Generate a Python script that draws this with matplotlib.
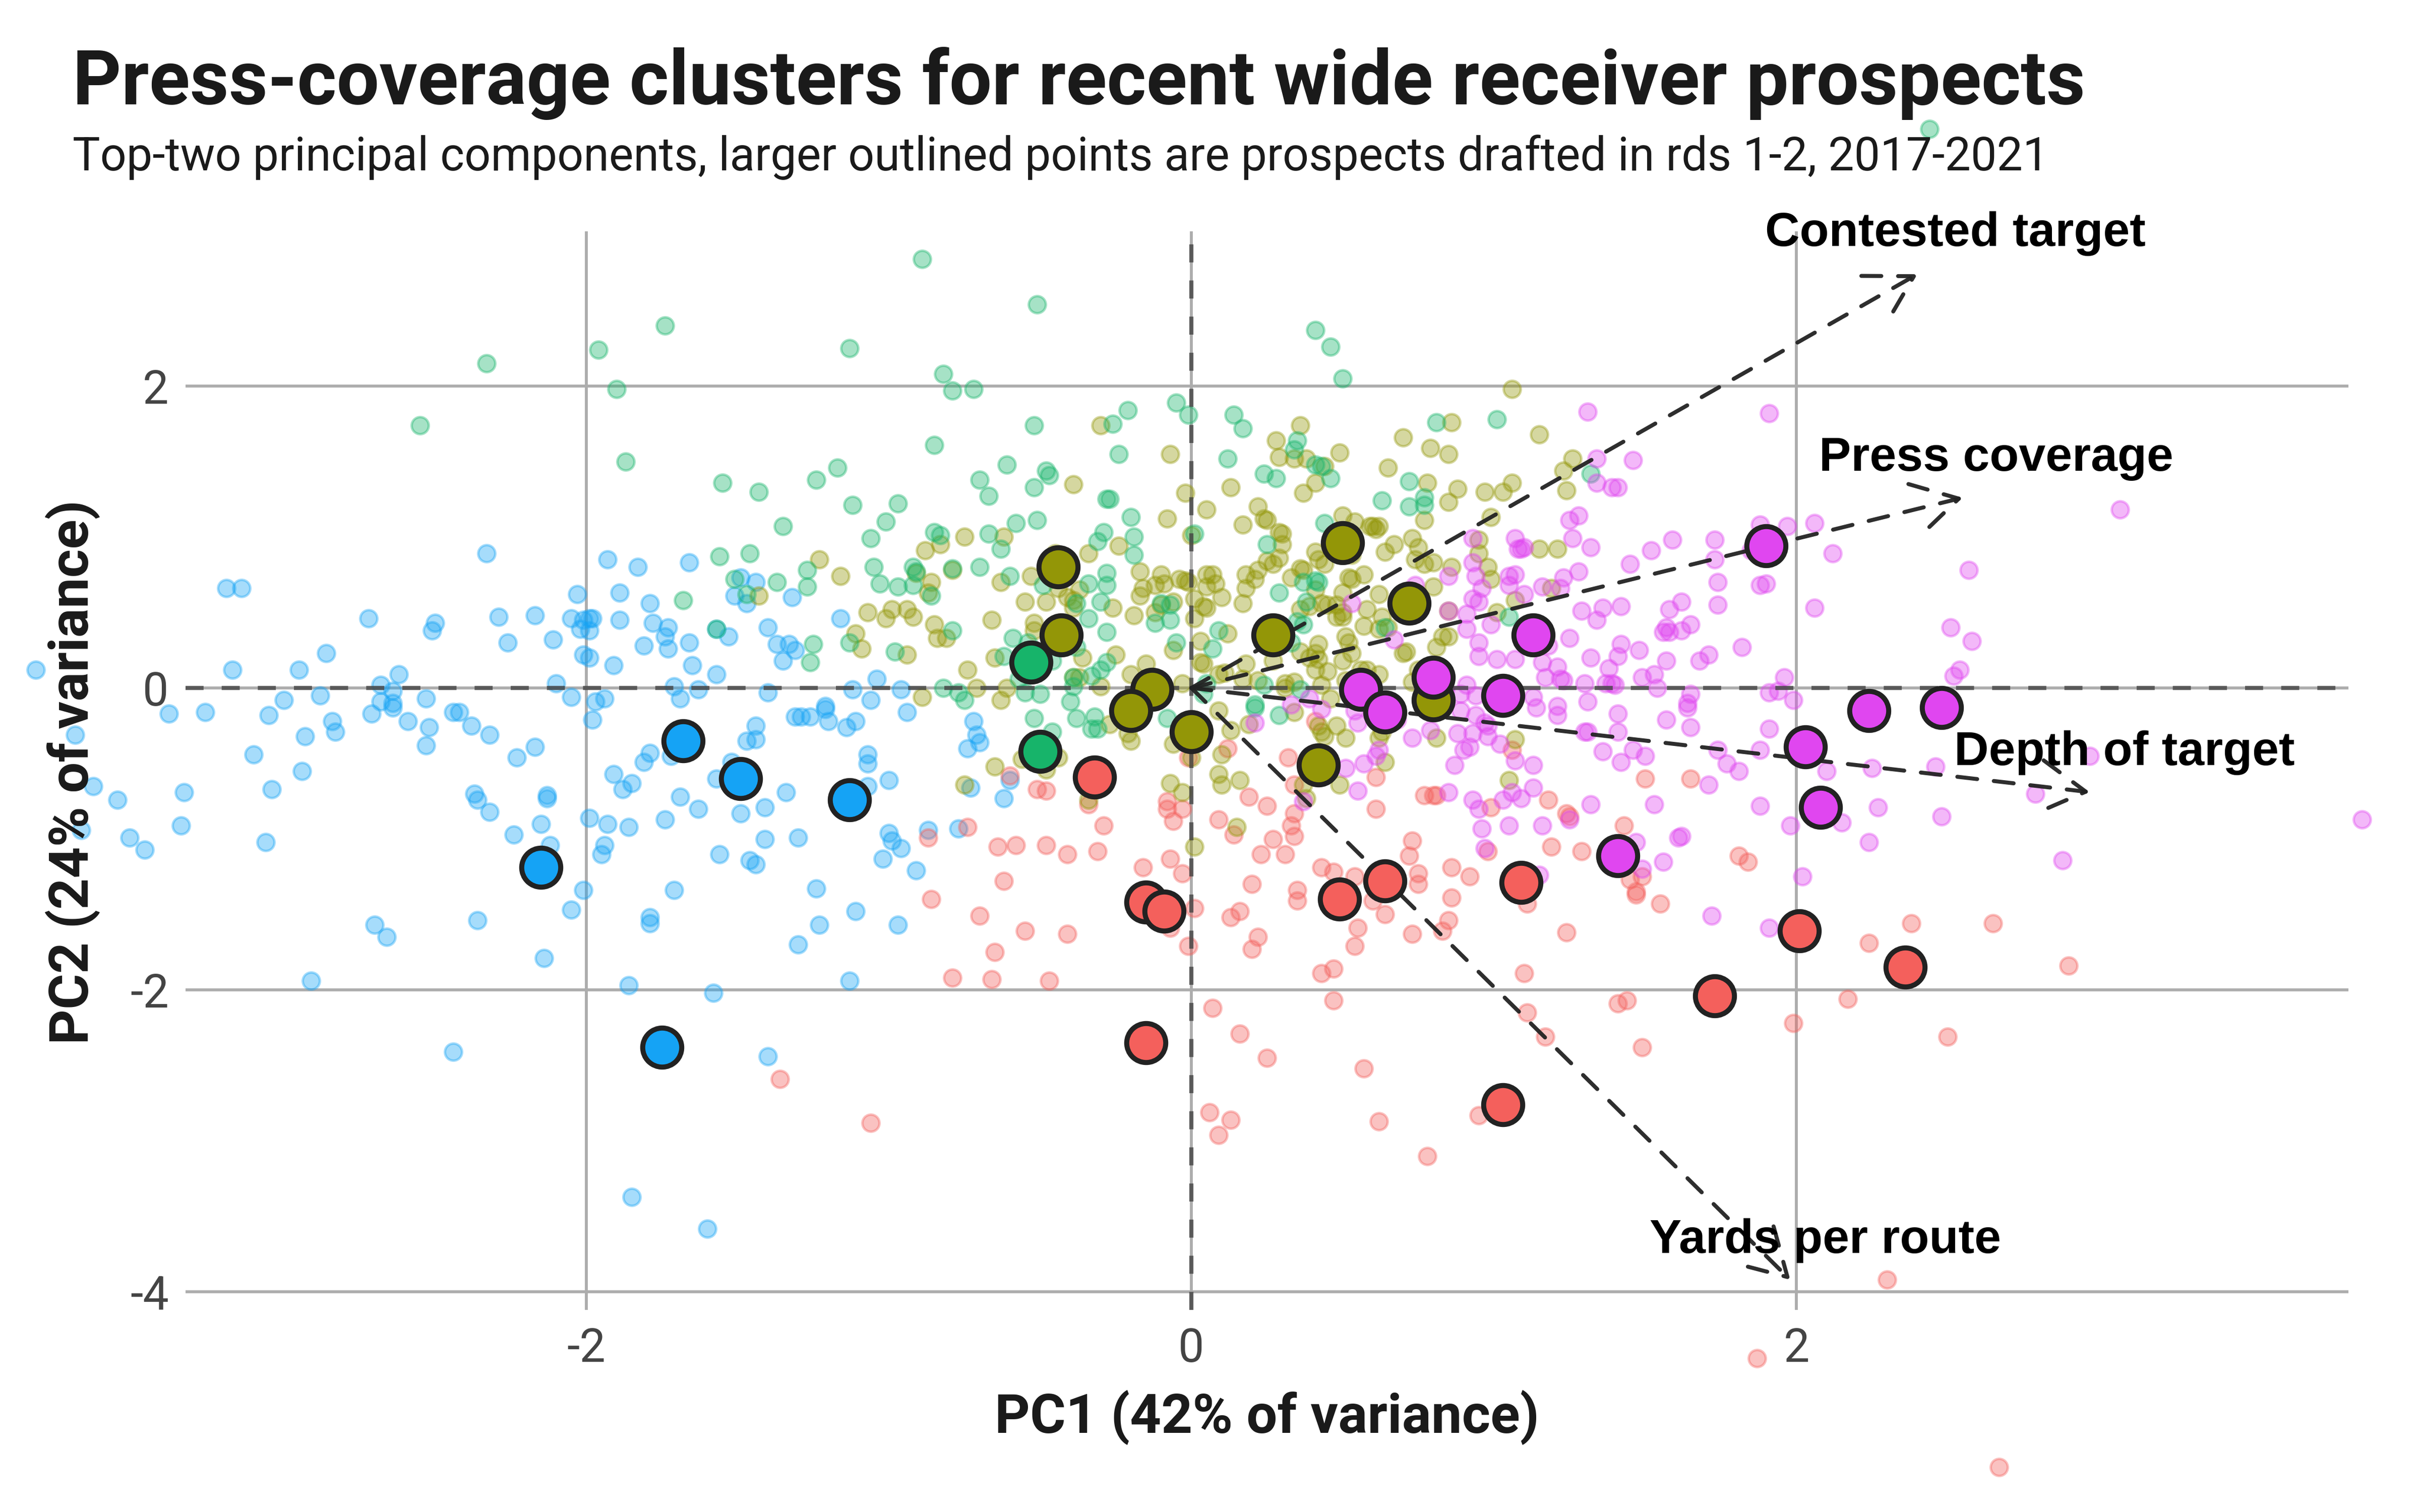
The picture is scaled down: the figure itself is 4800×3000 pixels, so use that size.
import matplotlib
matplotlib.use("Agg")
import matplotlib.pyplot as plt
import numpy as np

blue_points = [(-2.33,.89),(-3.82,.12),(-3.19,.66),(-3.14,.66),(-3.17,.12),(-2.95,.12),(-2.86,.23),(-2.72,.46),(-2.50,.43),(-2.51,.38),
(-2.29,.47),(-2.17,.48),(-2.26,.30),(-2.11,.32),(-1.93,.85),(-1.83,.80),(-1.66,.83),(-2.03,.62),(-1.89,.63),(-1.79,.56),(-2.05,.46),
(-2.01,.45),(-1.99,.46),(-1.98,.46),(-2.02,.39),(-1.99,.38),(-1.89,.45),(-1.78,.43),(-1.73,.40),(-1.74,.34),(-1.73,.26),(-1.81,.28),
(-1.66,.30),(-2.01,.22),(-1.99,.20),(-1.91,.15),(-1.65,.15),(-1.57,.09),(-2.62,.09),(-2.68,.02),(-2.64,-.02),(-2.10,.03),(-1.71,.01),
(-1.63,-.01),(-1.40,-.03),(-1.49,.73),(-1.44,.70),(-1.51,.61),(-1.47,.56),(-1.57,.39),(-1.53,.34),(-1.40,.40),(-1.32,.60),(-1.37,.29),
(-1.33,.29),(-1.31,.25),(-1.35,.18),(-3.0,-.08),(-2.88,-.05),(-2.68,-.09),(-2.64,-.10),(-2.53,-.07),(-2.05,-.06),(-1.97,-.09),(-1.94,-.07),
(-1.69,-.07),(-3.38,-.17),(-3.26,-.16),(-3.05,-.18),(-3.69,-.31),(-2.84,-.22),(-2.83,-.29),(-2.93,-.32),(-2.71,-.17),(-2.64,-.13),
(-2.59,-.22),(-2.52,-.26),(-2.44,-.16),(-2.42,-.16),(-2.38,-.25),(-2.32,-.31),(-2.53,-.38),(-1.98,-.21),(-3.10,-.44),(-2.94,-.55),
(-2.17,-.39),(-2.23,-.46),(-3.63,-.65),(-3.55,-.74),(-3.33,-.69),(-3.04,-.67),(-3.67,-.94),(-3.34,-.91),(-3.51,-.99),(-3.46,-1.07),
(-3.06,-1.02),(-2.37,-.70),(-2.36,-.74),(-2.32,-.82),(-2.13,-.71),(-2.13,-.73),(-2.15,-.90),(-2.24,-.97),(-2.12,-1.04),(-1.99,-.86),
(-1.93,-.90),(-1.86,-.92),(-1.94,-1.04),(-1.95,-1.10),(-2.01,-1.34),(-2.05,-1.47),(-2.36,-1.54),(-2.70,-1.57),(-2.66,-1.65),(-2.14,-1.79),
(-2.91,-1.94),(-1.86,-1.97),(-1.58,-2.02),(-2.44,-2.41),(-1.40,-2.44),(-1.85,-3.37),(-1.60,-3.58),(-1.71,-1.34),(-1.79,-1.52),(-1.79,-1.56),
(-1.30,-1.70),(-1.56,-1.10),(-1.46,-1.14),(-1.44,-1.17),(-1.41,-1.00),(-1.30,-.99),(-1.49,-.83),(-1.41,-.79),(-1.34,-.69),(-1.63,-.80),
(-1.69,-.72),(-1.74,-.87),(-1.57,-.60),(-1.52,-.49),(-1.72,-.45),(-1.79,-.43),(-1.81,-.49),(-1.91,-.57),(-1.85,-.63),(-1.88,-.67),
(-1.47,-.35),(-1.44,-.34),(-1.44,-.25),(-1.31,-.19),(-1.29,-.19),(-1.16,.46),(-1.04,.06),(-1.12,-.01),(-.96,-.01),(-1.06,-.08),(-1.21,-.12),
(-1.26,-.19),(-1.20,-.22),(-1.11,-.22),(-1.14,-.26),(-1.21,-.14),(-.94,-.16),(-.72,-.22),(-.71,-.31),(-.70,-.36),(-.74,-.40),(-1.07,-.44),
(-1.07,-.50),(-1.07,-.65),(-1.00,-.61),(-.73,-.66),(-.60,-.61),(-.62,-.73),(-1.00,-.96),(-.99,-1.01),(-.96,-1.06),(-1.02,-1.13),(-.91,-1.21),
(-.87,-.94),(-.77,-.93),(-1.24,-1.33),(-1.11,-1.48),(-1.23,-1.57),(-.97,-1.57),(-1.13,-1.94)]

green_points = [(-.89,2.84),(-.51,2.54),(-1.13,2.25),(-.82,2.08),(-.79,1.97),(-.72,1.98),(.41,2.37),(.46,2.26),(.50,2.05),(-.05,1.89),
(-.01,1.81),(-.21,1.84),(-.26,1.75),(-.52,1.74),(.14,1.81),(.17,1.72),(-.85,1.61),(-.24,1.55),(.12,1.52),(-1.17,1.46),(-1.24,1.38),(-.61,1.48),
(-.70,1.38),(-.48,1.44),(-.47,1.41),(-.52,1.33),(-.67,1.27),(-1.12,1.21),(-.97,1.22),(-1.01,1.10),(-1.06,.99),(-.85,1.03),(-.83,1.01),
(-.67,1.02),(-.58,1.09),(-.51,1.11),(-.28,1.25),(-.27,1.25),(-.20,1.13),(-.29,1.03),(-.31,.97),(-.19,1.00),(-.19,.88),(-.63,.92),(.01,1.02),
(-.92,.80),(-1.05,.80),(-.70,.80),(-.79,.79),(-1.03,.69),(-.97,.67),(-.92,.68),(-.91,.77),(-1.27,.78),(-1.27,.67),(-.86,.61),(-.60,.74),
(-.28,.76),(-.28,.68),(-.34,.69),(-.49,.68),(-.30,.57),(-.38,.56),(-.34,.46),(-.10,.56),(-.07,.55),(-.07,.45),(-.12,.43),(-.28,.37),(-.79,.38),
(-.59,.33),(-.54,.30),(-1.25,.29),(-1.13,.30),(-.98,.24),(-1.26,.17),(-.62,.21),(-.46,.18),(-.38,.27),(-.05,.30),(.09,.38),(.07,.26),(-.28,.17),
(-.30,.12),(-.33,.08),(-.39,.07),(-.39,.01),(-.57,.06),(-.82,0),(-.77,-.03),(-.75,-.08),(-.55,-.03),(-.50,-.04),(-.40,-.09),(.05,.03),(.04,-.04),
(.21,-.11),(.24,.02),(.29,.63),(.25,.95),(.44,1.09),(.46,1.39),(.41,1.48),(.43,1.47),(.35,1.64),(.34,1.58),(.24,1.42),(.28,1.39),(.81,1.76),
(1.01,1.78),(.72,1.37),(.63,1.24),(.72,1.20),(.77,1.26),(.77,1.21),(1.32,1.42),(.37,.70),(.41,.71),(.42,.70),(.38,.57),(.35,.44),(.37,.42),
(.64,.40),(1.05,.47),(.33,.30),(.36,-.01),(.29,-.18),(-.52,-.20),(-.38,-.20),(-.32,-.19),(-.33,-.27),(-.31,-.27),(-.46,-.29),(-.08,-.20),(.21,-.13),
(2.44,3.70),(-2.33,2.15),(-1.96,2.24),(-1.74,2.40),(-1.90,1.98),(-2.55,1.74),(-1.87,1.50),(-1.55,1.36),(-1.43,1.30),(-1.35,1.07),(-1.56,.87),
(-1.46,.89),(-1.37,.70),(-1.51,.72),(-1.68,.58),(-1.47,.62),(-1.57,.39)]

olive_points = [(-1.43,.61),(1.06,1.98),(-.30,1.74),(.86,1.76),(.36,1.74),(.28,1.64),(.70,1.66),(1.15,1.68),(-.07,1.55),(.79,1.59),(.85,1.55),
(.49,1.56),(.29,1.53),(.34,1.52),(.38,1.52),(.44,1.47),(.65,1.46),(1.26,1.52),(1.23,1.44),(-.39,1.35),(.13,1.33),(.41,1.36),(.37,1.29),(-.02,1.29),
(.78,1.36),(.88,1.32),(.97,1.30),(1.03,1.30),(1.06,1.36),(1.24,1.31),(.85,1.23),(.05,1.18),(-.08,1.12),(.22,1.20),(.24,1.12),(.25,1.11),(.17,1.08),
(.50,1.14),(.54,1.10),(.59,1.07),(.60,1.07),(.62,1.07),(.61,1.05),(.77,1.11),(.99,1.13),(.29,1.03),(.30,1.02),(.30,.95),(-.62,1.00),(-.75,1.00),
(-.83,.95),(-.88,.91),(-.24,.94),(-.34,.89),(-.45,.89),(0,1.01),(-1.23,.85),(-1.16,.74),(-.91,.76),(-.86,.70),(-.79,.78),(-.87,.63),(-.63,.70),
(-.53,.74),(.41,.90),(.42,.85),(.44,.82),(.53,.88),(.64,.90),(.67,.95),(.73,.99),(.75,.93),(.95,.98),(.95,.89),(1.15,.92),(1.21,.92),(.98,.80),
(.74,.85),(.77,.82),(.80,.83),(.86,.80),(.99,.72),(.29,.86),(.25,.84),(.27,.82),(.22,.78),(.36,.79),(.37,.78),(.18,.75),(.21,.72),(.18,.66),(.17,.56),
(.57,.75),(.52,.73),(.53,.72),(.33,.73),(.41,.65),(.50,.63),(.43,.56),(.80,.67),(.62,.62),(.58,.52),(.36,.52),(.39,.54),(.45,.55),(.48,.55),(.48,.47),
(.50,.47),(.50,.50),(.63,.47),(.62,.39),(.57,.41),(.65,.40),(1.07,.58),(1.01,.50),(.85,.51),(1.19,.66),(-.17,.77),(-.10,.75),(-.04,.72),(-.02,.71),
(-.01,.70),(.05,.75),(.07,.75),(.08,.69),(.05,.67),(.10,.60),(.01,.59),(.04,.54),(.05,.53),(.01,.46),(-.09,.69),(-.12,.68),(-.16,.66),(-.17,.61),
(-.06,.57),(-.10,.55),(-.12,.50),(-.19,.48),(-.26,.53),(-.55,.57),(-.48,.57),(-.44,.66),(-.41,.60),(-.39,.58),(-.37,.65),(-.39,.53),(-.52,.43),
(-.52,.38),(-1.07,.50),(-.99,.52),(-.94,.52),(-.92,.47),(-1.01,.46),(-.85,.42),(-.84,.33),(-.81,.33),(-.66,.45),(-1.11,.36),(-1.09,.26),(-.94,.22),
(-.65,.20),(-.36,.20),(-.25,.22),(-.74,.12),(-.71,0),(-.61,0),(-.89,-.06),(-.63,-.08),(-.39,.07),(-.37,.07),(-.30,.01),(-.20,.09),(-.15,.16),(-.03,.03),
(-.06,.25),(.03,.31),(.12,.36),(.03,.17),(.04,.16),(.09,.09),(.11,.10),(.18,.16),(.27,.18),(.22,.05),(.17,.06),(.31,.03),(.34,.04),(.31,0),(.36,.24),
(.39,.20),(.41,.23),(.42,.19),(.42,.29),(.50,.18),(.53,.23),(.51,.34),(.52,.30),(.43,.02),(.45,.11),(.41,.12),(.51,.05),(.56,.12),(.58,.12),(.62,.09),
(.70,.23),(.71,.24),(.75,.12),(.81,.27),(.83,.34),(.85,.34),(.73,.04),(.46,-.07),(-.27,-.24),(-.21,-.30),(-.20,-.35),(-.06,-.37),(.34,-.16),(.19,-.24),
(.13,-.28),(.09,-.15),(.42,-.25),(.43,-.29),(.44,-.32),(.48,-.25),(.51,-.33),(.62,-.33),(.63,-.29),(.64,-.49),(.81,-.33),(1.07,-.34),(1.05,-.61),
(0,-.46),(.10,-.44),(.09,-.57),(.10,-.64),(.16,-.61),(-.07,-.63),(-.03,-.69),(.15,-.92),(.01,-1.05),(.37,-.64),(.38,-.73),(.49,-.64),(-.56,-.47),
(-.44,-.46),(-.48,-.54),(-.65,-.52),(-.75,-.64),(-.34,-.74)]

magenta_points = [(1.31,1.83),(1.34,1.52),(1.34,1.36),(1.39,1.33),(1.25,1.11),(1.28,1.14),(.93,.99),(1.07,.99),(1.26,.99),(1.32,.93),(1.08,.92),
(1.10,.93),(1.09,.92),(.93,.83),(.94,.74),(.85,.74),(1.07,.75),(1.05,.74),(1.05,.68),(1.28,.77),(1.23,.73),(1.22,.66),(1.16,.67),(1.10,.62),(.96,.66),
(.93,.59),(.95,.57),(.74,.68),(.53,.56),(.67,.32),(.85,.51),(.91,.49),(.99,.42),(.91,.39),(.95,.30),(.95,.21),(1.01,.19),(1.07,.19),(1.18,.28),(1.16,.17),
(1.25,.33),(1.29,.51),(1.34,.45),(1.36,.53),(1.32,.20),(1.21,.14),(1.17,.07),(1.22,.06),(1.23,.05),(1.30,.03),(1.38,.13),(1.37,.03),(1.39,.03),(.91,.02),
(.84,-.01),(.89,-.04),(.94,-.05),(1.13,-.06),(1.31,-.09),(1.21,-.12),(.39,-.07),(.33,-.11),(.43,-.14),(.21,-.23),(.54,-.15),(.55,-.23),(.51,-.53),(.57,-.50),
(.62,-.41),(.61,-.45),(.73,-.33),(.79,-.28),(.68,-.21),(.55,-.68),(.37,-.75),(.85,-.69),(.89,-.15),(.94,-.18),(.97,-.23),(.98,-.25),(.88,-.30),(.93,-.30),
(.98,-.32),(1.02,-.37),(.92,-.39),(.90,-.41),(.87,-.51),(1.07,-.48),(1.13,-.51),(1.14,-.13),(1.21,-.18),(1.30,-.29),(1.31,-.29),(1.36,-.42),(1.13,-.66),
(1.09,-.73),(1.06,-.69),(1.03,-.74),(.93,-.74),(.95,-.80),(.96,-.93),(.97,-1.06),(1.05,-.91),(1.16,-.91),(1.25,-.87),(1.32,-.77),(1.15,-1.24),
(1.91,1.82),(1.46,1.51),(1.41,1.33),(3.07,1.18),(1.88,1.08),(1.97,1.07),(2.06,1.09),(1.59,.98),(1.73,.98),(1.73,.85),(1.52,.91),(1.45,.82),(2.12,.89),(1.85,.91),
(2.57,.78),(1.74,.70),(1.88,.68),(1.90,.69),(1.42,.54),(1.62,.57),(1.58,.52),(1.74,.55),(2.06,.53),(1.56,.37),(1.57,.40),(1.58,.37),(1.62,.38),(1.65,.42),
(1.42,.29),(1.41,.21),(1.48,.25),(1.82,.27),(1.71,.22),(1.68,.18),(1.57,.18),(2.51,.40),(2.58,.31),(2.54,.12),(2.52,.08),(1.53,.09),(1.49,.07),(1.54,0),
(1.96,.07),(1.91,-.03),(1.94,-.02),(1.65,-.04),(1.99,-.08),(1.40,.02),(1.64,-.10),(1.41,-.17),(1.57,-.21),(1.64,-.13),(1.65,-.26),(1.91,-.27),(1.41,-.29),
(1.42,-.49),(1.46,-.41),(1.50,-.45),(1.74,-.41),(1.88,-.41),(1.77,-.50),(1.81,-.55),(1.71,-.64),(1.53,-.77),(1.88,-.78),(2.10,-.55),(2.25,-.53),(2.46,-.52),
(2.97,-.45),(2.79,-.70),(2.27,-.79),(2.48,-.85),(2.15,-.89),(1.98,-.91),(3.87,-.87),(2.24,-1.02),(2.88,-1.14),(1.47,-1.02),(1.62,-.98),(1.61,-.99),(1.56,-1.15),
(1.49,-1.20),(2.02,-1.25),(1.72,-1.51),(1.91,-1.59)]

red_points = [(1.50,-.60),(1.65,-.60),(1.43,-.91),(1.81,-1.11),(1.84,-1.15),(1.49,-1.25),(1.45,-1.27),(1.47,-1.35),(1.47,-1.37),(1.55,-1.43),(2.24,-1.69),
(2.38,-1.56),(2.65,-1.56),(2.90,-1.84),(2.17,-2.06),(1.44,-2.07),(1.41,-2.09),(1.99,-2.22),(2.50,-2.31),(1.49,-2.38),(2.30,-3.92),(1.87,-4.44),(2.67,-5.16),
(-.60,-.58),(-.51,-.67),(-.48,-.68),(-.34,-.77),(-.01,-.46),(.12,-.40),(.32,-.46),(.34,-.64),(.61,-.59),(.19,-.72),(.25,-.78),(-.08,-.75),(-.08,-.80),(-.03,-.80),
(-.06,-.88),(-.29,-.91),(.09,-.87),(.34,-.83),(.33,-.91),(.34,-.98),(.14,-.97),(.27,-1.00),(.61,-.80),(.77,-.71),(.80,-.71),(.81,-.71),(.99,-.79),(1.18,-.74),
(1.24,-.83),(1.25,-.85),(1.06,-.41),(.41,-.22),(-.74,-.92),(-.87,-.99),(-.64,-1.05),(-.58,-1.04),(-.48,-1.04),(-.41,-1.10),(-.31,-1.08),(-.07,-1.13),(-.16,-1.19),
(-.03,-1.23),(.23,-1.10),(.31,-1.10),(.43,-1.19),(.47,-1.22),(.54,-1.25),(.73,-1.01),(.72,-1.11),(.75,-1.23),(.75,-1.30),(.86,-1.19),(.92,-1.25),(1.19,-1.05),
(1.29,-1.08),(.98,-1.08),(-.62,-1.28),(-.86,-1.40),(-.70,-1.51),(.20,-1.30),(.35,-1.34),(.35,-1.41),(.60,-1.41),(.86,-1.39),(.01,-1.46),(.16,-1.48),(.13,-1.52),
(.64,-1.50),(1.11,-1.43),(.85,-1.54),(.83,-1.61),(.55,-1.59),(.73,-1.63),(1.24,-1.62),(-.55,-1.61),(-.41,-1.63),(-.65,-1.75),(-.07,-1.59),(-.01,-1.71),(.22,-1.65),
(.20,-1.73),(.54,-1.71),(.43,-1.89),(.47,-1.86),(1.10,-1.89),(-.79,-1.92),(-.66,-1.93),(-.47,-1.94),(.07,-2.12),(.47,-2.07),(1.11,-2.15),(1.17,-2.31),(.16,-2.29),
(.25,-2.45),(.57,-2.52),(.06,-2.81),(.13,-2.86),(.09,-2.96),(.62,-2.87),(.95,-2.83),(.78,-3.10),(-1.06,-2.88),(-1.36,-2.59)]

blue_drafted = [(-1.68,-.35),(-1.49,-.60),(-2.15,-1.19),(-1.75,-2.38),(-1.13,-.74)]
green_drafted = [(-.53,.17),(-.50,-.42)]
olive_drafted = [(-.44,.80),(-.43,.35),(.50,.96),(.72,.56),(.27,.35),(-.13,-.01),(-.20,-.15),(0,-.29),(.42,-.51),(.80,-.08)]
magenta_drafted = [(1.90,.94),(1.13,.35),(.56,-.01),(.80,.07),(1.03,-.05),(.64,-.16),(2.24,-.15),(2.48,-.13),(2.03,-.39),(2.08,-.79),(1.41,-1.11)]
red_drafted = [(-.32,-.59),(-.15,-1.42),(-.09,-1.48),(.49,-1.40),(.64,-1.28),(1.09,-1.29),(-.15,-2.35),(1.03,-2.76),(2.01,-1.61),(2.36,-1.85),(1.73,-2.04)]

arrow_names = ["Contested target","Press coverage","Depth of target","Yards per route"]
arrow_x = [2.40,2.55,2.97,1.98]
arrow_y = [2.74,1.26,-.69,-3.92]
label_x = [2.525,2.66,3.085,2.095]
label_y = [3.01,1.52,-.43,-3.66]
x_ticks = [-2,0,2]
y_ticks = [-4,-2,0,2]

BLUE, GREEN, OLIVE, MAGENTA, RED = "#15A3F5","#17B46A","#939607","#E046F0","#F4605C"
clusters = [(blue_points,blue_drafted,BLUE),(red_points,red_drafted,RED),(olive_points,olive_drafted,OLIVE),
            (green_points,green_drafted,GREEN),(magenta_points,magenta_drafted,MAGENTA)]

plt.rcParams["font.family"] = "Roboto"
W,H = 4800,3000
fig = plt.figure(figsize=(16,10),dpi=300)
ax = fig.add_axes([368/W,1-2599/H,(4658-368)/W,(2599-459)/H])
ax.set_xlim(-3.325,3.825)
ax.set_ylim(-4.119,3.024)
for s in ax.spines.values():
    s.set_visible(False)
ax.set_xticks(x_ticks)
ax.set_yticks(y_ticks)
ax.tick_params(length=0,pad=8,labelsize=22,labelcolor="#444444")
ax.set_yticklabels([str(v) for v in y_ticks])
ax.set_xticklabels([str(v) for v in x_ticks])
ax.grid(True,color="#ADADAD",lw=1.4,zorder=0)
ax.set_axisbelow(True)

for pts,_,c in clusters:
    a = np.array(pts)
    ax.scatter(a[:,0],a[:,1],s=66,color=c,edgecolors=c,alpha=.38,linewidths=1.2,clip_on=False,zorder=2)

ax.axhline(0,color="#444444",lw=2,alpha=.8,ls=(0,(4.3,4.3)),zorder=3)
ax.axvline(0,color="#444444",lw=2,alpha=.8,ls=(0,(4.3,4.3)),zorder=3)

for ex,ey in zip(arrow_x,arrow_y):
    ax.annotate("",xy=(ex,ey),xytext=(0,0),zorder=4,annotation_clip=False,
        arrowprops=dict(arrowstyle="->,head_length=.866,head_width=.5",mutation_scale=25,lw=1.9,
                        color="#222222",alpha=.95,ls=(0,(5,4.2)),shrinkA=0,shrinkB=0))

for _,d,c in clusters:
    a = np.array(d)
    ax.scatter(a[:,0],a[:,1],s=345,color=c,edgecolors="#222222",linewidths=2.4,clip_on=False,zorder=5)

for name,lx,ly in zip(arrow_names,label_x,label_y):
    ax.text(lx,ly,name,ha="center",va="center",fontsize=22.8,fontweight="bold",color="black",
            family="Liberation Sans",zorder=6,clip_on=False)

fig.text(144/W,1-165/H,"Press-coverage clusters for recent wide receiver prospects",fontsize=36,fontweight="bold",
         color="#1A1A1A",ha="left",va="center")
fig.text(144/W,1-312/H,"Top-two principal components, larger outlined points are prospects drafted in rds 1-2, 2017-2021",
         fontsize=22,color="#1A1A1A",ha="left",va="center")
fig.text(2513/W,1-2812/H,"PC1 (42% of variance)",fontsize=26,fontweight="bold",color="#1A1A1A",ha="center",va="center")
fig.text(144/W,1-1532/H,"PC2 (24% of variance)",fontsize=26,fontweight="bold",color="#1A1A1A",ha="center",va="center",rotation=90)

fig.savefig("out.png",dpi=300)
